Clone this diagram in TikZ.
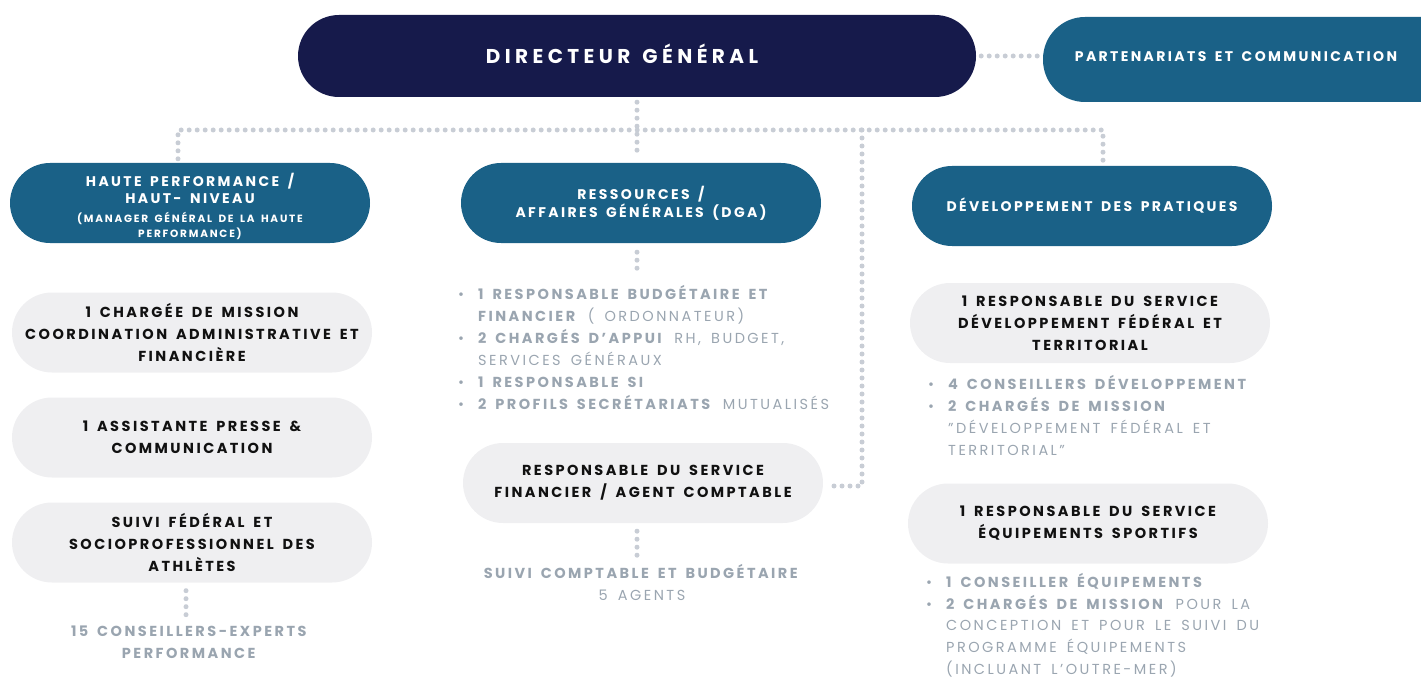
\documentclass[tikz,border=0pt]{standalone}
\usepackage{fontspec}
\setmainfont{Poppins}[LetterSpace=17,WordSpace=1.6]
\newfontfamily\dgfont{Poppins}[LetterSpace=22,WordSpace=1.4]
\definecolor{navy}{HTML}{161A4B}
\definecolor{teal}{HTML}{1A6187}
\definecolor{pale}{HTML}{EFEFF1}
\definecolor{dotc}{HTML}{C8CDD5}
\definecolor{greytext}{HTML}{9AA5B0}
\definecolor{inktext}{HTML}{111111}
\newcommand\mybul{\makebox[20pt][l]{\textbullet}}
\newcommand\myind{\hspace*{20pt}}
\tikzset{
  pill/.style={rectangle, rounded corners=40pt, inner sep=0pt, align=center,
    minimum width=360pt, minimum height=80pt},
  headbox/.style={pill, fill=teal, text=white, font=\bfseries\fontsize{14}{18}\selectfont},
  headtext/.style={inner sep=0pt, align=center, text=white, font=\bfseries\fontsize{14}{18}\selectfont},
  staffbox/.style={pill, fill=pale, text=inktext, font=\bfseries\fontsize{14.5}{22}\selectfont},
  greynote/.style={inner sep=0pt, text=greytext, font=\fontsize{14.5}{22}\selectfont},
  dots/.style={draw=dotc, line width=5pt, line cap=round, dash pattern=on 0pt off 8pt},
}
\begin{document}
\begin{tikzpicture}[x=1pt,y=-1pt]
\useasboundingbox (0,0) rectangle (1421,679);
% boxes
\node[pill, fill=navy, minimum width=678pt, minimum height=82pt, rounded corners=41pt] (dg) at (637,56) {};
\node[inner sep=0pt, text=white, font=\dgfont\bfseries\fontsize{20}{22}\selectfont] (dgt) at (622,54) {DIRECTEUR GÉNÉRAL};
\node[pill, fill=teal, minimum width=422pt, minimum height=85pt, rounded corners=42pt] (part) at (1254,59.5) {};
\node[headtext] (partt) at (1236,57) {PARTENARIATS ET COMMUNICATION};

\node[headbox] (hp) at (190,203) {};
\node[headtext, font=\bfseries\fontsize{14}{17}\selectfont] (hpt) at (190,206) {HAUTE PERFORMANCE /\\HAUT- NIVEAU\\[2pt]{\fontsize{10.5}{15}\selectfont (MANAGER GÉNÉRAL DE LA HAUTE}\\[-2pt]{\fontsize{10.5}{15}\selectfont PERFORMANCE)}};
\node[headbox] (res) at (641,203) {RESSOURCES /\\AFFAIRES GÉNÉRALES (DGA)};
\node[headbox] (dp) at (1092,206) {\raisebox{2pt}{DÉVELOPPEMENT DES PRATIQUES}};

\node[staffbox] (c1) at (192,332.5) {1 CHARGÉE DE MISSION\\COORDINATION ADMINISTRATIVE ET\\FINANCIÈRE};
\node[staffbox] (c2) at (192,437.5) {1 ASSISTANTE PRESSE \&\\COMMUNICATION};
\node[staffbox] (c3) at (192,542.5) {SUIVI FÉDÉRAL ET\\SOCIOPROFESSIONNEL DES\\ATHLÈTES};
\node[staffbox] (sf) at (643,483) {RESPONSABLE DU SERVICE\\FINANCIER / AGENT COMPTABLE};
\node[staffbox] (rd) at (1090,323) {1 RESPONSABLE DU SERVICE\\DÉVELOPPEMENT FÉDÉRAL ET\\TERRITORIAL};
\node[staffbox] (re) at (1088,523.5) {1 RESPONSABLE DU SERVICE\\ÉQUIPEMENTS SPORTIFS};

% grey notes
\node[greynote, align=center] (exp) at (190,642) {\textbf{15 CONSEILLERS-EXPERTS}\\\textbf{PERFORMANCE}};
\node[greynote, align=center] (suivi) at (642,582) {\textbf{SUIVI COMPTABLE ET BUDGÉTAIRE}\\5 AGENTS};
\node[greynote, align=left, anchor=north west] (resl) at (458,285) {%
\mybul\textbf{1 RESPONSABLE BUDGÉTAIRE ET}\\
\myind\textbf{FINANCIER} ( ORDONNATEUR)\\
\mybul\textbf{2 CHARGÉS D'APPUI} RH, BUDGET,\\
\myind SERVICES GÉNÉRAUX\\
\mybul\textbf{1 RESPONSABLE SI}\\
\mybul\textbf{2 PROFILS SECRÉTARIATS} MUTUALISÉS};
\node[greynote, align=left, anchor=north west] (rdl) at (928,375) {%
\mybul\textbf{4 CONSEILLERS DÉVELOPPEMENT}\\
\mybul\textbf{2 CHARGÉS DE MISSION}\\
\myind"DÉVELOPPEMENT FÉDÉRAL ET\\
\myind TERRITORIAL"};
\node[greynote, align=left, anchor=north west, font=\fontsize{14.5}{21.8}\selectfont] (rel) at (926,573) {%
\mybul\textbf{1 CONSEILLER ÉQUIPEMENTS}\\
\mybul\textbf{2 CHARGÉS DE MISSION} POUR LA\\
\myind CONCEPTION ET POUR LE SUIVI DU\\
\myind PROGRAMME ÉQUIPEMENTS\\
\myind (INCLUANT L'OUTRE-MER)};

% connectors
\coordinate (hb) at (178,130);
\coordinate (rb) at (1103,130);
\coordinate (vb) at (862,130);
\coordinate (resd) at (637,276);
\coordinate (expx) at (186,0);
\draw[dots] (dg.east) ++(5,0) -- ([xshift=-4pt]part.west |- dg.east);
\draw[dots] ([yshift=4pt]hp.north -| hb) -- (hb) -- (rb) -- ([yshift=4pt]dp.north -| rb);
\draw[dots] ([yshift=-5pt]dg.south) -- ([yshift=5pt]dg.south |- res.north);
\draw[dots] (vb) -- ([yshift=-3pt]vb |- sf.east) -- ([xshift=4pt,yshift=-3pt]sf.east);
\draw[dots] ([yshift=-9pt]res.south -| resd) -- (resd);
\draw[dots] ([yshift=-8pt]sf.south -| resd) -- ([yshift=6pt]suivi.north -| resd);
\draw[dots] ([yshift=-8pt]c3.south -| expx) -- ([yshift=6pt]exp.north -| expx);
\end{tikzpicture}
\end{document}
